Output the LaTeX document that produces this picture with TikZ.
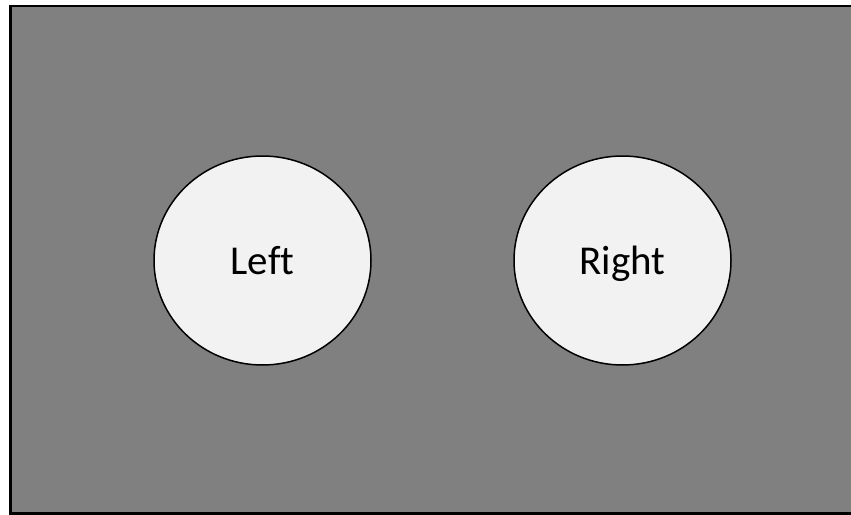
\documentclass[tikz,border=0pt]{standalone}
\usepackage{fontspec}
\setmainfont[Ligatures={NoCommon}]{Carlito}
\usetikzlibrary{shapes.geometric}
\definecolor{bggray}{RGB}{128,128,128}
\definecolor{discfill}{RGB}{242,242,242}
\tikzset{
  disc/.style={ellipse, draw=black, line width=1.5pt, fill=discfill,
    minimum width=217pt, minimum height=209pt, inner sep=0pt,
    text height=27pt, text depth=0pt,
    font=\fontsize{41}{48}\selectfont},
  frame/.style={draw=black, line width=2.8pt, fill=bggray}
}
\begin{document}
\begin{tikzpicture}[x=1pt,y=1pt]
\useasboundingbox (0,0) rectangle (851,-514);
\clip (0,0) rectangle (851,-514);
\fill[white] (0,0) rectangle (851,-514);
\draw[frame] (10.5,-6) rectangle (860,-513.5);
\node[disc] (left) at (262.5,-260.5) {Left};
\node[disc] (right) at (622.5,-260.5) {Right};
\end{tikzpicture}
\end{document}
